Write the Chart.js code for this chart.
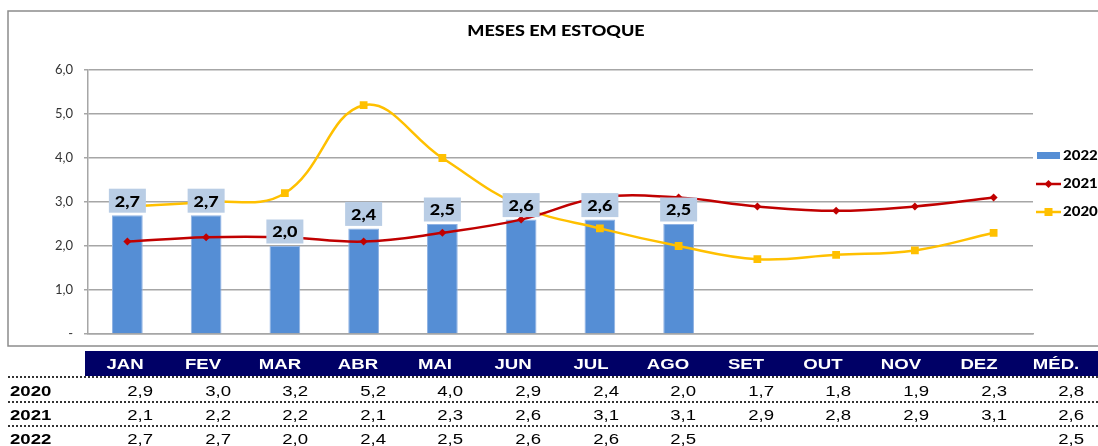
<!DOCTYPE html>
<html><head><meta charset="utf-8">
<script src="https://cdn.jsdelivr.net/npm/chart.js@4.4.1/dist/chart.umd.min.js"></script>
<style>
html,body{margin:0;padding:0;background:#fff;}
#wrap{position:relative;width:1098px;height:446px;overflow:hidden;}
#c{position:absolute;left:0;top:0;}
.t{position:absolute;font-family:"Liberation Sans",Arial,sans-serif;font-size:15.5px;white-space:nowrap;color:#000;}
.hd{position:absolute;left:85px;top:351px;width:1013px;height:25px;background:#000066;}
.dl{position:absolute;left:8px;width:1090px;height:0;border-top:2px dotted #333;}
</style></head>
<body><div id="wrap"><canvas id="c" width="1098" height="446"></canvas></div>
<script>
const months = ['JAN','FEV','MAR','ABR','MAI','JUN','JUL','AGO','SET','OUT','NOV','DEZ'];
const avgHeader = 'MÉD.';
const seriesNames = ['2020','2021','2022'];
const v2020 = [2.9,3.0,3.2,5.2,4.0,2.9,2.4,2.0,1.7,1.8,1.9,2.3];
const v2021 = [2.1,2.2,2.2,2.1,2.3,2.6,3.1,3.1,2.9,2.8,2.9,3.1];
const v2022 = [2.7,2.7,2.0,2.4,2.5,2.6,2.6,2.5];
const averages = [2.8,2.6,2.5];
const yTicks = [0,1,2,3,4,5,6];
const title = 'MESES EM ESTOQUE';

const fmt = v => v.toFixed(1).replace('.', ',');
const C2022 = '#558ed5', C2021 = '#c00000', C2020 = '#ffc000';
const SX = 1.2;

function stretchText(ctx, text, x, y, align) {
  ctx.save();
  ctx.translate(x, y);
  ctx.scale(SX, 1);
  ctx.textAlign = align;
  ctx.textBaseline = 'middle';
  ctx.fillText(text, 0, 0);
  ctx.restore();
}

const decor = {
  id: 'decor',
  beforeDraw(chart) {
    const ctx = chart.ctx;
    ctx.save();
    ctx.strokeStyle = '#8c8c8c';
    ctx.lineWidth = 1.5;
    ctx.strokeRect(8, 11, 1100, 335);
    ctx.fillStyle = '#000';
    ctx.font = '900 15px Lato';
    stretchText(ctx, title, 556, 31, 'center');
    ctx.restore();
  },
  afterDatasetsDraw(chart) {
    const ctx = chart.ctx;
    const meta = chart.getDatasetMeta(0);
    ctx.save();
    meta.data.forEach((bar, i) => {
      const w = 37, h = 24;
      const bottom = bar.y - 2.5;
      ctx.fillStyle = '#b9cde5';
      ctx.fillRect(bar.x - w / 2, bottom - h, w, h);
      ctx.fillStyle = '#000';
      ctx.font = '900 15px Lato';
      stretchText(ctx, fmt(v2022[i]), bar.x, bottom - h / 2 + 1, 'center');
    });
    // legend
    const lx = 1037, tx = 1063;
    ctx.fillStyle = C2022;
    ctx.fillRect(lx, 152, 23, 7);
    ctx.strokeStyle = C2021; ctx.lineWidth = 2.5;
    ctx.beginPath(); ctx.moveTo(lx - 1, 184); ctx.lineTo(lx + 24, 184); ctx.stroke();
    ctx.fillStyle = C2021;
    ctx.beginPath(); ctx.moveTo(lx + 11.5, 180); ctx.lineTo(lx + 15.5, 184); ctx.lineTo(lx + 11.5, 188); ctx.lineTo(lx + 7.5, 184); ctx.closePath(); ctx.fill();
    ctx.strokeStyle = C2020;
    ctx.beginPath(); ctx.moveTo(lx - 1, 212); ctx.lineTo(lx + 24, 212); ctx.stroke();
    ctx.fillStyle = C2020;
    ctx.fillRect(lx + 7.5, 208, 8, 8);
    ctx.fillStyle = '#000';
    ctx.font = '900 12.5px Lato';
    stretchText(ctx, seriesNames[2], tx, 156, 'left');
    stretchText(ctx, seriesNames[1], tx, 184, 'left');
    stretchText(ctx, seriesNames[0], tx, 212, 'left');
    ctx.restore();
  }
};

new Chart(document.getElementById('c'), {
  data: {
    labels: months,
    datasets: [
      { type: 'bar', label: seriesNames[2], data: v2022, backgroundColor: C2022,
        borderColor: '#8fb2e3', borderWidth: 1, barPercentage: 0.39, categoryPercentage: 1, order: 3 },
      { type: 'line', label: seriesNames[1], data: v2021, borderColor: C2021, backgroundColor: C2021,
        borderWidth: 2.5, tension: 0.4, pointStyle: 'rectRot', pointRadius: 4, pointBorderWidth: 0, order: 1 },
      { type: 'line', label: seriesNames[0], data: v2020, borderColor: C2020, backgroundColor: C2020,
        borderWidth: 2.5, tension: 0.4, pointStyle: 'rect', pointRadius: 5.5, pointBorderWidth: 0, order: 2 }
    ]
  },
  options: {
    responsive: false,
    animation: false,
    layout: { padding: { left: 0, top: 70, right: 65, bottom: 112 } },
    plugins: { legend: { display: false }, tooltip: { enabled: false }, title: { display: false } },
    scales: {
      x: {
        grid: { display: false },
        ticks: { display: false },
        border: { display: true, color: '#a6a6a6', width: 1.5 },
        afterFit: s => { s.height = 0; }
      },
      y: {
        min: 0, max: 6,
        afterBuildTicks: s => { s.ticks = yTicks.map(v => ({ value: v })); },
        ticks: { padding: 11, color: '#333', font: { family: 'Lato', size: 13 },
          callback: v => v === 0 ? '-' : fmt(v) },
        grid: { color: '#a6a6a6', lineWidth: 1.5, drawTicks: true, tickLength: 4 },
        border: { display: true, color: '#a6a6a6', width: 1.5 },
        afterFit: s => { s.width = 88; }
      }
    }
  },
  plugins: [decor]
});

// table below the chart
const wrap = document.getElementById('wrap');
function add(cls, text, css) {
  const d = document.createElement('div');
  d.className = cls;
  if (text !== null) d.textContent = text;
  Object.assign(d.style, css);
  wrap.appendChild(d);
  return d;
}
add('hd', null, {});
const colStep = 77.6, hdCenter0 = 125, valRight0 = 153;
months.concat([avgHeader]).forEach((m, i) => {
  add('t', m, { left: (hdCenter0 + colStep * i - 50) + 'px', width: '100px', textAlign: 'center',
    top: '351px', height: '25px', lineHeight: '25px', color: '#fff', fontWeight: 'bold',
    transform: 'scaleX(' + SX + ')', transformOrigin: 'center center' });
});
[376, 400.5, 424.5].forEach(y => add('dl', null, { top: y + 'px' }));
const rows = [v2020, v2021, v2022];
const rowCenters = [390.5, 414.5, 438.5];
rows.forEach((vals, r) => {
  const top = rowCenters[r] - 12;
  add('t', seriesNames[r], { left: '10px', top: top + 'px', height: '24px', lineHeight: '24px',
    fontWeight: 'bold', transform: 'scaleX(' + SX + ')', transformOrigin: 'left center' });
  vals.concat(Array(12 - vals.length).fill(null)).concat([averages[r]]).forEach((v, i) => {
    if (v === null) return;
    add('t', fmt(v), { left: (valRight0 + colStep * i - 80) + 'px', width: '80px', textAlign: 'right',
      top: top + 'px', height: '24px', lineHeight: '24px',
      transform: 'scaleX(' + SX + ')', transformOrigin: 'right center' });
  });
});
</script></body></html>
